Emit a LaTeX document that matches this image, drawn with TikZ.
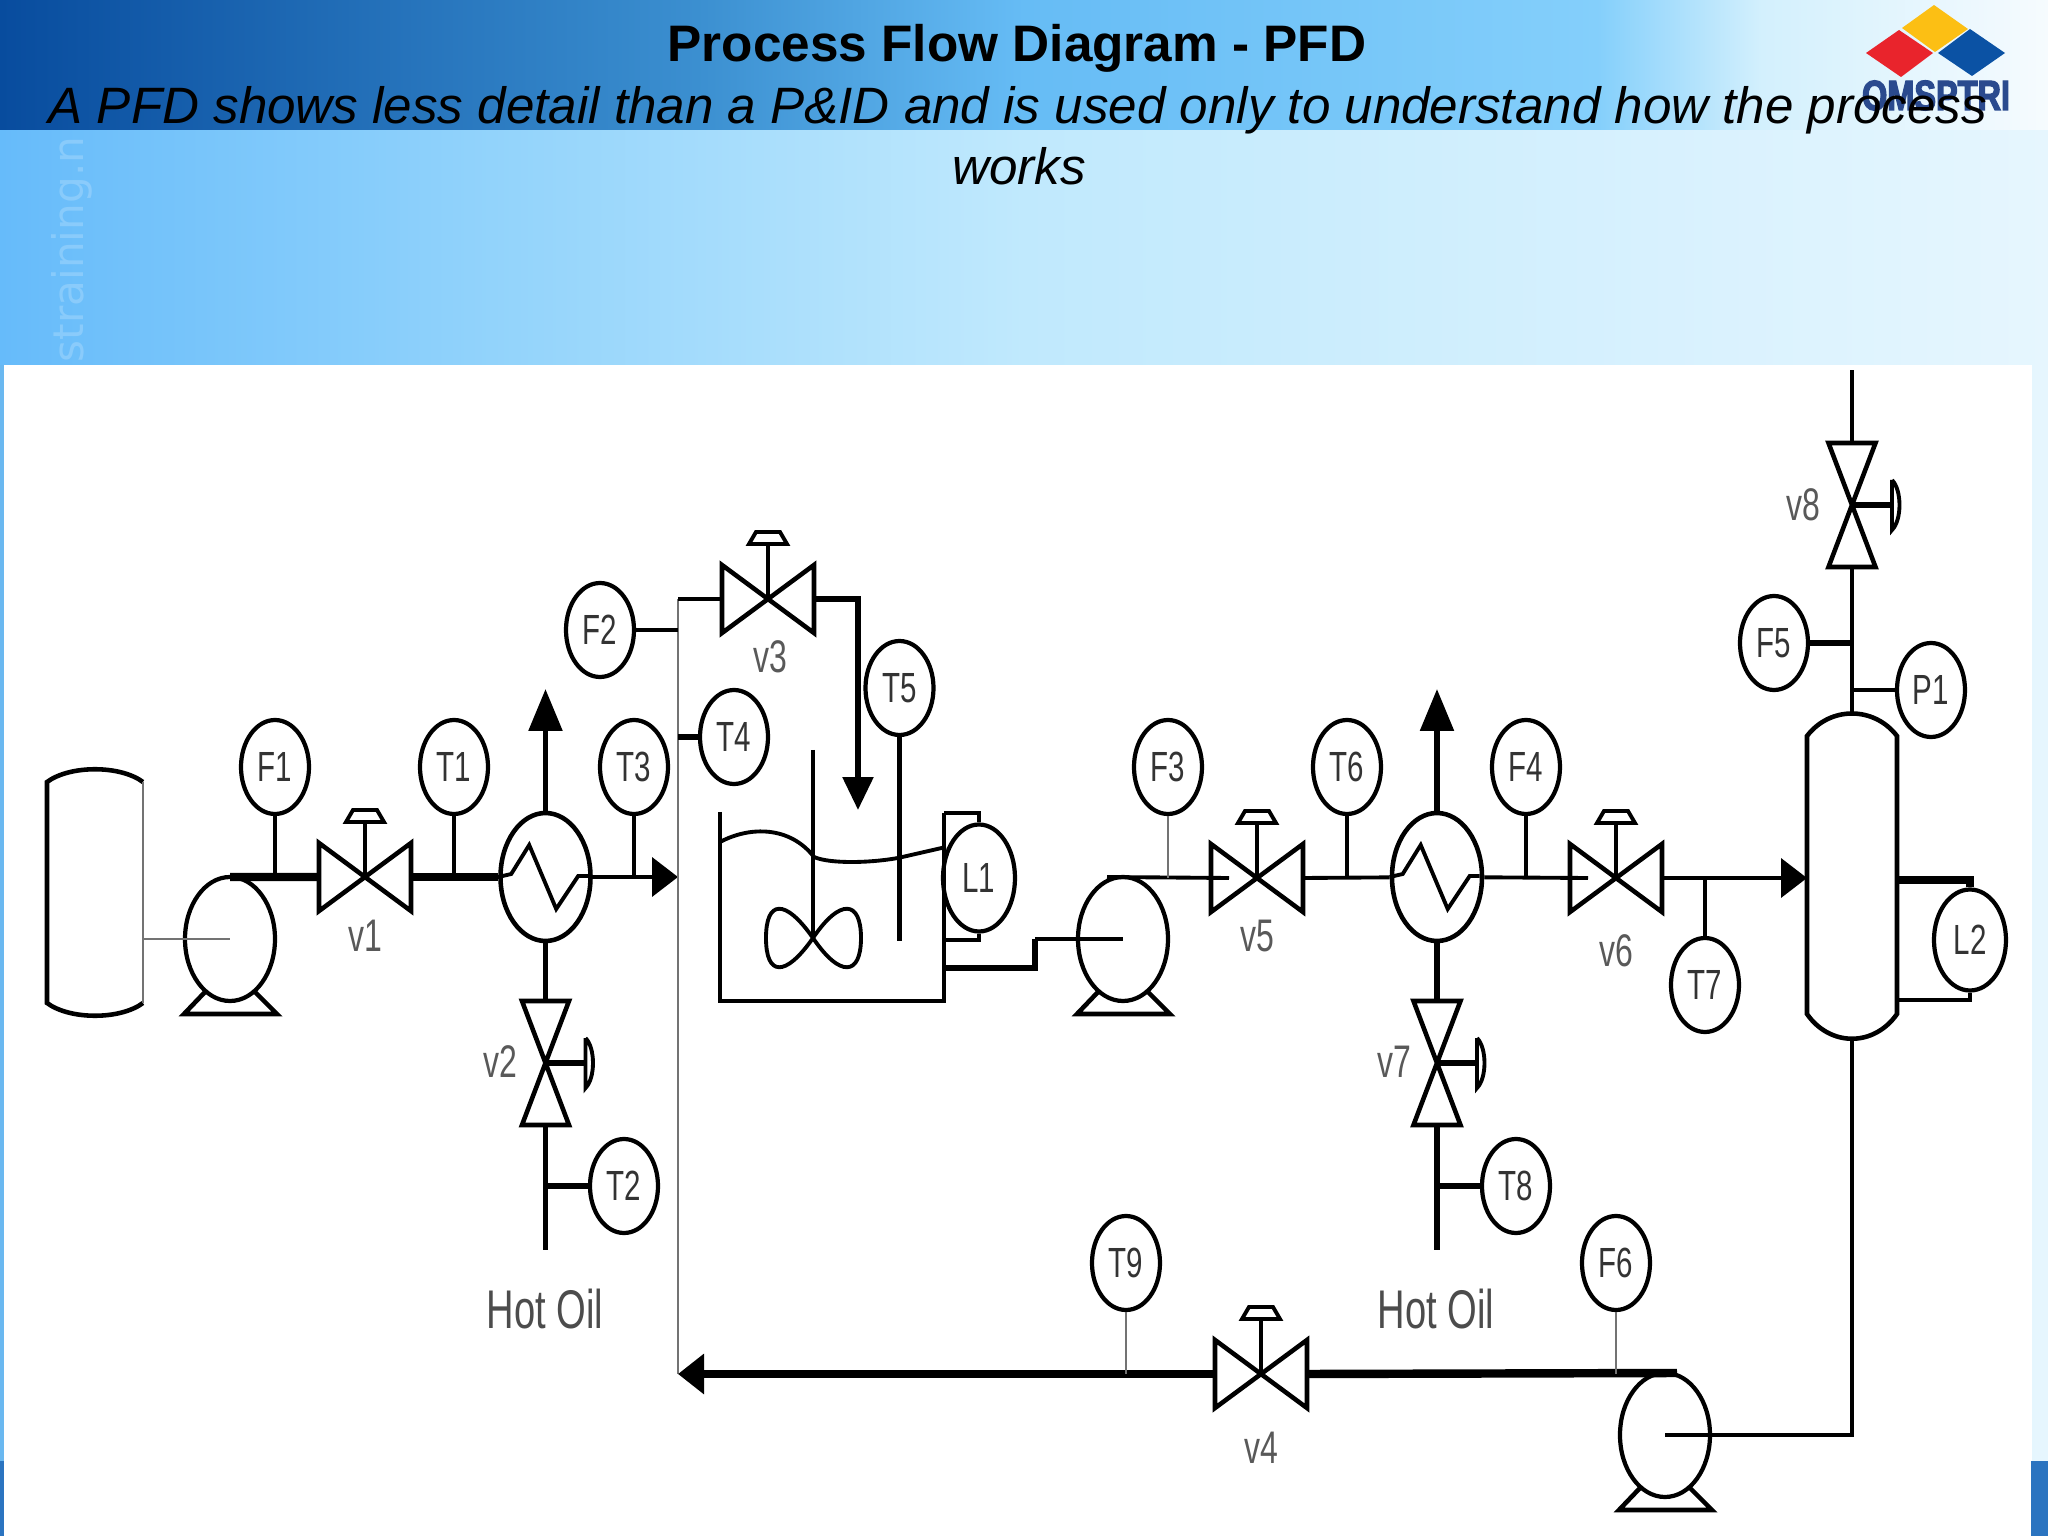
\documentclass[tikz,border=0pt]{standalone}
\usepackage{fontspec}
\setmainfont{Liberation Sans}
\newfontfamily\pidfont[FakeStretch=0.7]{Liberation Sans}
\newfontfamily\logofont[FakeStretch=0.77,FakeBold=3]{Liberation Sans Bold}
\newfontfamily\markfont{DejaVu Sans}
\usetikzlibrary{arrows.meta,shapes.geometric}
\definecolor{bandA}{HTML}{084C9E}
\definecolor{bandB}{HTML}{3B8FD0}
\definecolor{bandC}{HTML}{66BCF5}
\definecolor{bandD}{HTML}{84CFFB}
\definecolor{bandE}{HTML}{D3F0FD}
\definecolor{bandF}{HTML}{F6FBFE}
\definecolor{skyA}{HTML}{66BBFA}
\definecolor{skyB}{HTML}{92D3FB}
\definecolor{skyC}{HTML}{C0E9FD}
\definecolor{skyD}{HTML}{E6F6FE}
\definecolor{stripblue}{HTML}{6AB8F0}
\definecolor{cornerblue}{HTML}{2B74C0}
\definecolor{logoyellow}{HTML}{FCBF14}
\definecolor{logored}{HTML}{E9242C}
\definecolor{logoblue}{HTML}{0B52A4}
\definecolor{logotext}{HTML}{2A4A8E}
\pgfdeclarehorizontalshading{bandshade}{100bp}{color(0bp)=(bandA); color(25bp)=(bandA); color(42bp)=(bandB); color(50bp)=(bandC); color(64bp)=(bandD); color(68bp)=(bandE); color(75bp)=(bandF); color(100bp)=(bandF)}
\pgfdeclarehorizontalshading{skyshade}{100bp}{color(0bp)=(skyA); color(25bp)=(skyA); color(37bp)=(skyB); color(50bp)=(skyC); color(75bp)=(skyD); color(100bp)=(skyD)}
\tikzset{
  signal/.style={line width=.7pt,black!55},
  pipe/.style={line width=1.1pt},
  mainpipe/.style={line width=1.6pt},
  feedpipe/.style={line width=2.4pt},
  outline/.style={line width=1.3pt},
  gauge/.style={draw,ellipse,line width=1.2pt,minimum width=.68cm,minimum height=.94cm,inner sep=0pt,font=\pidfont\fontsize{12}{12}\selectfont,text=black!80},
  vlabel/.style={inner sep=0pt,font=\pidfont\fontsize{13}{13}\selectfont,text=black!65},
  oillabel/.style={inner sep=0pt,font=\pidfont\fontsize{15.5}{16}\selectfont,text=black!70},
  hvalve/.pic={
    \coordinate (-w) at (-.46,0);
    \coordinate (-e) at (.46,0);
    \coordinate (-in) at (-.28,0);
    \draw[outline] (-.46,-.34) -- (.46,.34) -- (.46,-.34) -- (-.46,.34) -- cycle;
    \draw[pipe] (0,0) -- (0,-.55);
    \draw[pipe] (-.19,-.55) -- (.19,-.55) -- (.12,-.67) -- (-.12,-.67) -- cycle;
  },
  vvalve/.pic={
    \coordinate (-n) at (0,-.62);
    \coordinate (-s) at (0,.62);
    \draw[outline] (-.235,-.62) -- (.235,-.62) -- (-.235,.62) -- (.235,.62) -- cycle;
    \draw[mainpipe] (0,0) -- (.40,0);
    \draw[pipe] (.40,-.25) -- (.40,.25) .. controls (.50,.15) and (.50,-.15) .. (.40,-.25);
  },
  pump/.pic={
    \node[draw,ellipse,fill=white,line width=1.2pt,minimum width=.90cm,minimum height=1.24cm,inner sep=0pt] (-body) at (0,0) {};
    \coordinate (-c) at (0,0);
    \coordinate (-top) at (0,-.62);
    \draw[outline] (-.25,.53) -- (-.46,.75) -- (.47,.75) -- (.25,.53);
  },
  exch/.pic={
    \node[draw,ellipse,line width=1.3pt,minimum width=.90cm,minimum height=1.28cm,inner sep=0pt] (-body) at (0,0) {};
    \draw[pipe] (-body.west) -- ++(.13,-.03) -- ++(.18,-.29) -- ++(.27,.64) -- ++(.22,-.33) -- ++(.10,0);
  }
}
\begin{document}
\begin{tikzpicture}[y=-1cm]
\useasboundingbox (0,0) rectangle (20.48,15.36);
\shade[shading=skyshade] (0,1.30) rectangle (20.48,15.36);
\shade[shading=bandshade] (0,0) rectangle (20.48,1.30);
\fill[stripblue] (0,3.65) rectangle (.04,14.61);
\fill[cornerblue] (0,14.61) rectangle (.04,15.36);
\fill[white] (.04,3.65) rectangle (20.32,15.36);
\fill[cornerblue] (20.31,14.61) rectangle (20.48,15.36);
\node[rotate=90,anchor=base west,inner sep=0pt,text=white,opacity=.2,font=\markfont\fontsize{12}{12}\selectfont] (mark) at (.83,3.63) {straining.n};
\fill[logoyellow] (19.34,.05) -- (19.68,.29) -- (19.35,.52) -- (19.02,.28) -- cycle;
\fill[logored] (18.99,.30) -- (19.33,.53) -- (19.01,.77) -- (18.66,.53) -- cycle;
\fill[logoblue] (19.70,.29) -- (20.05,.53) -- (19.72,.76) -- (19.38,.53) -- cycle;
\node[anchor=base,inner sep=0pt,text=logotext,font=\logofont\fontsize{12}{12}\selectfont] (logo) at (19.36,1.10) {OMSPTRI};
\node[anchor=base,inner sep=0pt,font=\bfseries\fontsize{14.6}{17}\selectfont] (title) at (10.17,.62) {Process Flow Diagram - PFD};
\node[anchor=base,inner sep=0pt,font=\itshape\fontsize{14.55}{17}\selectfont] (subA) at (10.18,1.24) {A PFD shows less detail than a P\&ID and is used only to understand how the process};
\node[anchor=base,inner sep=0pt,font=\itshape\fontsize{14.55}{17}\selectfont] (subB) at (10.19,1.85) {works};
\coordinate (drumAout) at (1.43,9.39);
\draw[outline] (1.43,7.82) .. controls (1.2,7.65) and (.7,7.65) .. (.47,7.82) -- (.47,10.03) .. controls (.7,10.20) and (1.2,10.20) .. (1.43,10.03);
\draw[signal] (1.43,7.82) -- (1.43,10.03);
\coordinate (drumBtop) at (18.52,7.135);
\coordinate (drumBbot) at (18.52,10.395);
\coordinate (drumBin) at (18.07,8.78);
\coordinate (drumBhi) at (18.97,8.80);
\coordinate (drumBlo) at (18.97,10.00);
\draw[outline] (18.07,7.36) .. controls (18.3,7.06) and (18.74,7.06) .. (18.97,7.36) -- (18.97,10.14) .. controls (18.74,10.47) and (18.3,10.47) .. (18.07,10.14) -- cycle;
\coordinate (tankTR) at (9.44,8.13);
\coordinate (tankBR) at (9.44,9.40);
\coordinate (tankOut) at (9.44,9.68);
\draw[outline] (7.20,8.12) -- (7.20,10.01) -- (9.44,10.01) -- (tankTR);
\draw[pipe] (7.20,8.42) .. controls (7.50,8.26) and (7.90,8.26) .. (8.14,8.57) .. controls (8.30,8.64) and (8.70,8.63) .. (8.98,8.58) -- (9.46,8.47);
\draw[pipe] (8.13,7.50) -- (8.13,9.38);
\draw[pipe] (8.13,9.38) .. controls (7.85,8.98) and (7.66,9.00) .. (7.66,9.38) .. controls (7.66,9.76) and (7.85,9.78) .. (8.13,9.38) .. controls (8.40,8.98) and (8.61,9.00) .. (8.61,9.38) .. controls (8.61,9.76) and (8.40,9.78) .. (8.13,9.38);
\pic (PA) at (2.30,9.39) {pump};
\pic (PB) at (11.23,9.39) {pump};
\pic (PC) at (16.65,14.35) {pump};
\pic (HXA) at (5.455,8.77) {exch};
\pic (HXB) at (14.37,8.77) {exch};
\pic (v1) at (3.65,8.77) {hvalve};
\pic (v3) at (7.68,5.99) {hvalve};
\pic (v4) at (12.61,13.74) {hvalve};
\pic (v5) at (12.57,8.78) {hvalve};
\pic (v6) at (16.16,8.78) {hvalve};
\pic (v2) at (5.455,10.63) {vvalve};
\pic (v7) at (14.37,10.63) {vvalve};
\pic (v8) at (18.52,5.05) {vvalve};
\node[gauge] (F1) at (2.75,7.67) {F1};
\node[gauge] (T1) at (4.54,7.67) {T1};
\node[gauge] (T3) at (6.34,7.67) {T3};
\node[gauge] (T2) at (6.24,11.86) {T2};
\node[gauge] (F2) at (6.00,6.30) {F2};
\node[gauge] (T4) at (7.34,7.37) {T4};
\node[gauge] (T5) at (8.995,6.88) {T5};
\node[gauge,minimum width=.72cm,minimum height=1.07cm] (L1) at (9.79,8.78) {L1};
\node[gauge] (F3) at (11.68,7.67) {F3};
\node[gauge] (T6) at (13.47,7.67) {T6};
\node[gauge] (F4) at (15.26,7.67) {F4};
\node[gauge] (T7) at (17.05,9.85) {T7};
\node[gauge] (T8) at (15.16,11.86) {T8};
\node[gauge] (T9) at (11.26,12.63) {T9};
\node[gauge] (F6) at (16.16,12.63) {F6};
\node[gauge] (F5) at (17.74,6.43) {F5};
\node[gauge] (P1) at (19.31,6.90) {P1};
\node[gauge,minimum width=.72cm,minimum height=1.01cm] (L2) at (19.70,9.40) {L2};
\coordinate (hxAtop) at (5.455,6.89);
\coordinate (hxBtop) at (14.37,6.89);
\coordinate (oilA) at (5.455,12.50);
\coordinate (oilB) at (14.37,12.50);
\coordinate (retT) at (6.78,5.99);
\coordinate (retB) at (6.78,13.74);
\coordinate (inA) at (6.78,8.77);
\coordinate (tankIn) at (8.58,8.10);
\coordinate (T5end) at (8.995,9.41);
\coordinate (kink) at (10.35,9.39);
\coordinate (topEnd) at (18.52,3.70);
\draw[signal] (drumAout) -- (PA-c);
\draw[feedpipe] (PA-top) -- (v1-w);
\draw[feedpipe] (v1-e) -- (HXA-body);
\draw[pipe] (F1) -- (F1 |- v1-w);
\draw[pipe] (T1) -- (T1 |- v1-w);
\draw[pipe] (T3) -- (T3 |- inA);
\draw[pipe,-{Triangle[length=.26cm,width=.39cm]}] (HXA-body) -- (inA);
\draw[mainpipe,-{Triangle[length=.42cm,width=.33cm]}] (HXA-body) -- (hxAtop);
\draw[mainpipe] (HXA-body) -- (v2-n);
\draw[mainpipe] (v2-s) -- (oilA);
\draw[mainpipe] (T2) -- (T2 -| oilA);
\draw[signal] (retT) -- (retB);
\draw[pipe] (retT) -- (v3-w);
\draw[pipe] (F2) -- (F2 -| retT);
\draw[mainpipe] (T4) -- (T4 -| retT);
\draw[mainpipe,-{Triangle[length=.33cm,width=.30cm]}] (v3-e) -| (tankIn);
\draw[mainpipe] (T5) -- (T5end);
\draw[pipe] (tankTR) -| (L1.north);
\draw[pipe] (tankBR) -| (L1.south);
\draw[mainpipe] (tankOut) -| (kink);
\draw[pipe] (kink) -- (PB-c);
\draw[pipe] (PB-top) ++(-.16,0) -- (v5-in);
\draw[signal] (F3) -- (F3 |- v5-in);
\draw[pipe] (v5-e) -- (HXB-body);
\draw[pipe] (T6) -- (T6 |- v5-e);
\draw[pipe] (HXB-body) -- (v6-in);
\draw[pipe] (F4) -- (F4 |- v6-in);
\draw[pipe,-{Triangle[length=.26cm,width=.39cm]}] (v6-e) -- (drumBin);
\draw[pipe] (T7) -- (T7 |- v6-e);
\draw[mainpipe,-{Triangle[length=.42cm,width=.33cm]}] (HXB-body) -- (hxBtop);
\draw[mainpipe] (HXB-body) -- (v7-n);
\draw[mainpipe] (v7-s) -- (oilB);
\draw[mainpipe] (T8) -- (T8 -| oilB);
\draw[pipe] (drumBtop) -- (v8-s);
\draw[pipe] (v8-n) -- (topEnd);
\draw[mainpipe] (F5) -- (F5 -| drumBtop);
\draw[pipe] (P1) -- (P1 -| drumBtop);
\draw[feedpipe] (drumBhi) -| (L2.north);
\draw[pipe] (drumBlo) -| (L2.south);
\draw[pipe] (PC-c) -| (drumBbot);
\draw[feedpipe] (PC-top) ++(.12,0) -- (v4-e);
\draw[feedpipe,-{Triangle[length=.26cm,width=.39cm]}] (v4-w) -- (retB);
\draw[signal] (T9) -- (T9 |- v4-w);
\draw[signal] (F6) -- (F6 |- v4-e);
\node[vlabel] (lv1) at (3.65,9.36) {v1};
\node[vlabel] (lv2) at (5.00,10.62) {v2};
\node[vlabel] (lv3) at (7.70,6.57) {v3};
\node[vlabel] (lv4) at (12.61,14.48) {v4};
\node[vlabel] (lv5) at (12.57,9.36) {v5};
\node[vlabel] (lv6) at (16.16,9.51) {v6};
\node[vlabel] (lv7) at (13.94,10.62) {v7};
\node[vlabel] (lv8) at (18.03,5.05) {v8};
\node[oillabel] (oillabA) at (5.45,13.09) {Hot Oil};
\node[oillabel] (oillabB) at (14.36,13.09) {Hot Oil};
\end{tikzpicture}
\end{document}
